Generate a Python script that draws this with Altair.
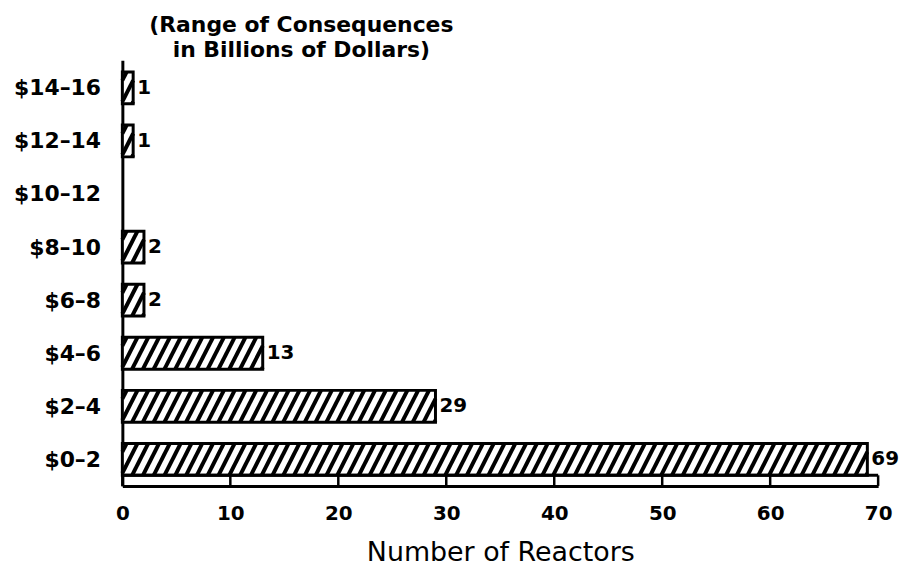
import json
import altair as alt
import numpy as np
import pandas as pd

# ---- data ----
categories = ["$0–2", "$2–4", "$4–6", "$6–8", "$8–10", "$10–12", "$12–14", "$14–16"]
reactors = [69, 29, 13, 2, 2, 0, 1, 1]
x_ticks = [0, 10, 20, 30, 40, 50, 60, 70]
title_lines = ["(Range of Consequences", "in Billions of Dollars)"]
x_title = "Number of Reactors"

# ---- styling constants ----
FONT = "DejaVu Sans"
HALF = 0.30          # half bar thickness (in category-index units)
Y_MIN, Y_MAX = -0.50, 7.52
HATCH_STEP = 1.0     # horizontal spacing of hatch lines (reactor units)
HATCH_RUN = 1.5      # horizontal run of one hatch line over the bar height

bars = pd.DataFrame({"idx": list(range(len(categories))),
                     "category": categories,
                     "value": reactors})
bars["lo"] = bars["idx"] - HALF
bars["hi"] = bars["idx"] + HALF
bars["zero"] = 0
bars = bars[bars["value"] > 0].reset_index(drop=True)

# hatch segments clipped to each bar
segs = []
for _, r in bars.iterrows():
    v = float(r["value"])
    for x0 in np.arange(-HATCH_RUN + 0.4, v, HATCH_STEP):
        t_lo = max(0.0, -x0 / HATCH_RUN)
        t_hi = min(1.0, (v - x0) / HATCH_RUN)
        if t_hi - t_lo > 0.02:
            segs.append({
                "x": x0 + t_lo * HATCH_RUN,
                "x2": x0 + t_hi * HATCH_RUN,
                "y": r["lo"] + t_lo * 2 * HALF,
                "y2": r["lo"] + t_hi * 2 * HALF,
            })
hatch = pd.DataFrame(segs)

strip_ticks = pd.DataFrame({"x": x_ticks, "y": -HALF, "y2": Y_MIN})
strip_line = pd.DataFrame({"x": [min(x_ticks)], "x2": [max(x_ticks)], "y": [-HALF]})

x_scale = alt.Scale(domain=[min(x_ticks), max(x_ticks)], nice=False, zero=True)
y_scale = alt.Scale(domain=[Y_MIN, Y_MAX], nice=False, zero=False)

x_axis = alt.Axis(values=x_ticks, title=x_title, ticks=False, grid=False,
                  domain=True, domainWidth=3, domainColor="black",
                  labelFont=FONT, labelFontSize=20, labelFontWeight="bold",
                  labelColor="black", labelPadding=18, labelFlush=False,
                  titleFont=FONT, titleFontSize=27, titleFontWeight="normal",
                  titleColor="black", titlePadding=16)
label_expr = json.dumps(categories, ensure_ascii=False) + "[datum.value]"
y_axis = alt.Axis(values=list(range(len(categories))), labelExpr=label_expr,
                  title=None, ticks=False, grid=False, domain=True,
                  domainWidth=3, domainColor="black",
                  labelFont=FONT, labelFontSize=22, labelFontWeight="bold",
                  labelColor="black", labelPadding=22)

rects = alt.Chart(bars).mark_rect(fill="white", stroke="black", strokeWidth=3).encode(
    x=alt.X("zero:Q", scale=x_scale, axis=x_axis),
    x2="value:Q",
    y=alt.Y("lo:Q", scale=y_scale, axis=y_axis),
    y2="hi:Q",
)

hatch_layer = alt.Chart(hatch).mark_rule(color="black", strokeWidth=4).encode(
    x=alt.X("x:Q", scale=x_scale, axis=x_axis),
    x2="x2:Q",
    y=alt.Y("y:Q", scale=y_scale, axis=y_axis),
    y2="y2:Q",
)

labels = alt.Chart(bars).mark_text(align="left", baseline="middle", dx=4,
                                   font=FONT, fontSize=20, fontWeight="bold",
                                   color="black").encode(
    x=alt.X("value:Q", scale=x_scale, axis=x_axis),
    y=alt.Y("idx:Q", scale=y_scale, axis=y_axis),
    text="value:Q",
)

ticks_layer = alt.Chart(strip_ticks).mark_rule(color="black", strokeWidth=2.5).encode(
    x=alt.X("x:Q", scale=x_scale, axis=x_axis),
    y=alt.Y("y:Q", scale=y_scale, axis=y_axis),
    y2="y2:Q",
)

line_layer = alt.Chart(strip_line).mark_rule(color="black", strokeWidth=3).encode(
    x=alt.X("x:Q", scale=x_scale, axis=x_axis),
    x2="x2:Q",
    y=alt.Y("y:Q", scale=y_scale, axis=y_axis),
)

chart = alt.layer(rects, hatch_layer, line_layer, ticks_layer, labels).properties(
    width=760,
    height=428,
    title=alt.TitleParams(text=title_lines, anchor="middle", align="center",
                          dx=-200, font=FONT, fontSize=22, fontWeight="bold",
                          color="black", lineHeight=25, offset=-2),
).configure_view(stroke=None)

chart.save("out.html", embed_options={"renderer": "svg", "actions": False})
